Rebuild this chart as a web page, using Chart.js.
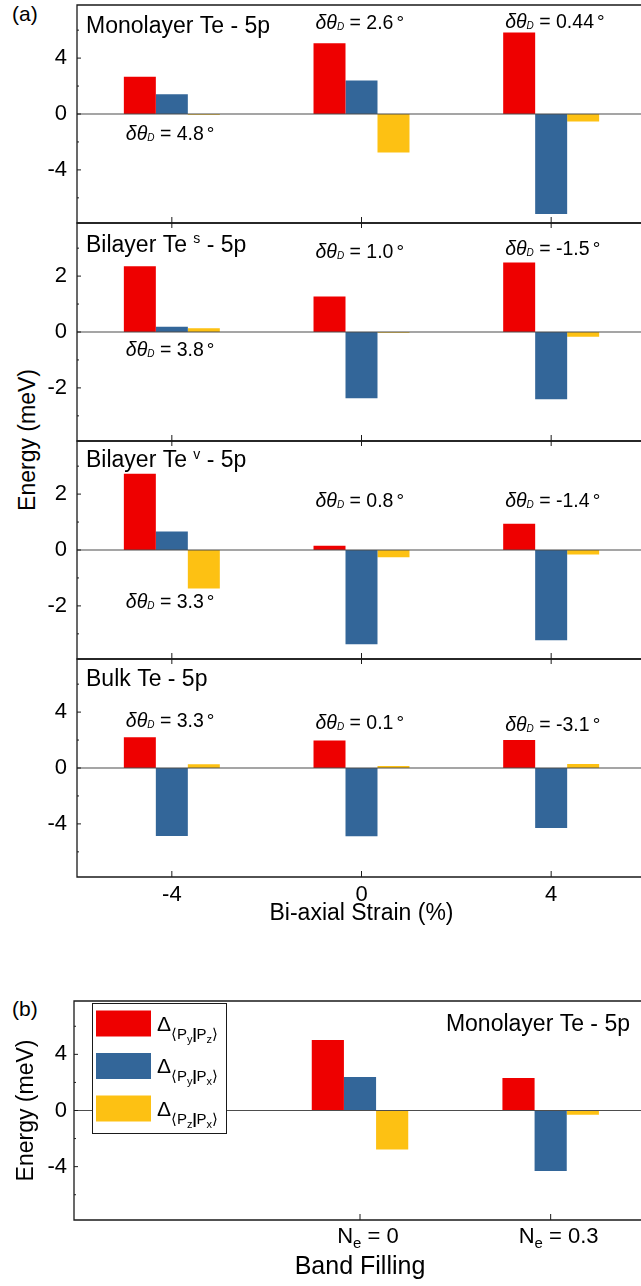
<!DOCTYPE html>
<html>
<head>
<meta charset="utf-8">
<script src="https://cdn.jsdelivr.net/npm/chart.js@4.4.0/dist/chart.umd.min.js"></script>
<style>
  html, body { margin: 0; padding: 0; overflow: hidden; background: #fff; }
  #page { position: relative; width: 641px; height: 1286px; overflow: hidden;
          font-family: "Liberation Sans", Arial, sans-serif; color: #000; }
  .box { position: absolute; left: 0; width: 650px; }
  .lbl { position: absolute; font-size: 21px; line-height: 24px; white-space: nowrap; }
  #ytitle { position: absolute; left: 27px; top: 440px; font-size: 23px; white-space: nowrap;
            transform: translate(-50%, -50%) rotate(-90deg); }
</style>
</head>
<body>
<div id="page">
  <div class="lbl" style="left:12px; top:2px;">(a)</div>
  <div class="lbl" style="left:12px; top:997px;">(b)</div>
  <div id="ytitle">Energy (meV)</div>
  <div class="box" style="top:1px; height:226px;"><canvas id="mono"></canvas></div>
  <div class="box" style="top:219px; height:226px;"><canvas id="bis"></canvas></div>
  <div class="box" style="top:437px; height:226px;"><canvas id="biv"></canvas></div>
  <div class="box" style="top:655px; height:272px;"><canvas id="bulk"></canvas></div>
  <div class="box" style="top:997px; height:289px;"><canvas id="fill"></canvas></div>
</div>
<script>
// ---- data ----
var strainLabels = ['-4', '0', '4'];
var neValues = ['', '0', '0.3'];
var orbitalPairs = [['y', 'z'], ['y', 'x'], ['z', 'x']];

// monolayer Te
var monoPyPz = [2.66, 5.06, 5.83];
var monoPyPx = [1.41, 2.40, -7.15];
var monoPzPx = [-0.05, -2.76, -0.53];
var monoDelta = ['4.8', '2.6', '0.44'];

// bilayer Te (s)
var bisPyPz = [2.35, 1.27, 2.49];
var bisPyPx = [0.19, -2.37, -2.41];
var bisPzPx = [0.13, -0.03, -0.17];
var bisDelta = ['3.8', '1.0', '-1.5'];

// bilayer Te (v)
var bivPyPz = [2.73, 0.15, 0.94];
var bivPyPx = [0.66, -3.37, -3.23];
var bivPzPx = [-1.38, -0.26, -0.16];
var bivDelta = ['3.3', '0.8', '-1.4'];

// bulk Te
var bulkPyPz = [2.20, 1.96, 2.01];
var bulkPyPx = [-4.87, -4.89, -4.30];
var bulkPzPx = [0.26, 0.14, 0.29];
var bulkDelta = ['3.3', '0.1', '-3.1'];

// band filling, monolayer
var fillPyPz = [null, 5.03, 2.31];
var fillPyPx = [null, 2.38, -4.31];
var fillPzPx = [null, -2.78, -0.30];

// ---- drawing helpers ----
var FONT = '"Liberation Sans", Arial, "DejaVu Sans", sans-serif';
var colors = ['#ee0000', '#336699', '#fdc113'];

function fontOf(r) {
  return (r.it ? 'italic ' : '') + (r.b ? 'bold ' : '') + r.s + 'px ' + FONT;
}

function drawRuns(ctx, runs, x, y, align) {
  var w = 0;
  runs.forEach(function(r) {
    ctx.font = fontOf(r);
    r.w = ctx.measureText(r.t).width + (r.dx || 0);
    w += r.w;
  });
  var cx = align === 'center' ? x - w / 2 : (align === 'right' ? x - w : x);
  ctx.textAlign = 'left';
  ctx.textBaseline = 'alphabetic';
  ctx.fillStyle = '#000';
  runs.forEach(function(r) {
    ctx.font = fontOf(r);
    ctx.fillText(r.t, cx + (r.dx || 0), y + (r.dy || 0));
    cx += r.w;
  });
}

function titleRuns(name, sup) {
  var runs = [{t: name + ' ', s: 23}];
  if (sup) runs.push({t: sup, s: 14, dy: -8.5});
  runs.push({t: (sup ? ' ' : '') + '- 5p', s: 23});
  return runs;
}

function deltaRuns(v) {
  return [{t: 'δθ', s: 19.5, it: true}, {t: 'D', s: 10, it: true, dy: 1},
          {t: ' = ' + v, s: 19.5}, {t: '°', s: 19, dx: 3}];
}

function seriesLabel(p) { return 'Δ⟨P' + p[0] + '|P' + p[1] + '⟩'; }

function noPad(s) { s.paddingTop = 0; s.paddingBottom = 0; s.paddingLeft = 0; s.paddingRight = 0; }

function makeChart(id, cfg) {
  var plugin = {
    id: 'deco_' + id,
    afterDatasetsDraw: function(chart) {
      var ctx = chart.ctx, a = chart.chartArea;
      var xs = chart.scales.x, ys = chart.scales.y;
      ctx.save();
      // zero line
      var y0 = ys.getPixelForValue(0);
      ctx.strokeStyle = '#4d4d4d';
      ctx.lineWidth = 1.2;
      ctx.beginPath(); ctx.moveTo(a.left, y0); ctx.lineTo(a.right, y0); ctx.stroke();
      // frame
      ctx.strokeStyle = '#1a1a1a';
      ctx.lineWidth = 1.3;
      ctx.beginPath();
      ctx.moveTo(a.right, a.top); ctx.lineTo(a.left, a.top);
      ctx.lineTo(a.left, a.bottom); ctx.lineTo(a.right, a.bottom);
      ctx.stroke();
      // inward ticks
      ctx.lineWidth = 1;
      for (var k = Math.ceil(ys.min / cfg.minor); k * cfg.minor <= ys.max; k++) {
        var py = ys.getPixelForValue(k * cfg.minor);
        var len = (k % Math.round(cfg.major / cfg.minor) === 0) ? 4 : 2;
        ctx.beginPath(); ctx.moveTo(a.left, py); ctx.lineTo(a.left + len, py); ctx.stroke();
      }
      chart.data.labels.forEach(function(l, i) {
        if (!l) return;
        var px = xs.getPixelForValue(i);
        ctx.beginPath(); ctx.moveTo(px, a.bottom); ctx.lineTo(px, a.bottom - 6); ctx.stroke();
        if (cfg.topTicks) {
          ctx.beginPath(); ctx.moveTo(px, a.top); ctx.lineTo(px, a.top + 5); ctx.stroke();
        }
      });
      // panel title
      var tr = titleRuns(cfg.name, cfg.sup);
      if (cfg.titleRight) drawRuns(ctx, tr, a.left + cfg.titleRight, a.top + 29.5, 'right');
      else drawRuns(ctx, tr, a.left + 9, a.top + cfg.titleY, 'left');
      // delta theta notes
      if (cfg.delta) {
        cfg.delta.forEach(function(d, i) {
          drawRuns(ctx, deltaRuns(d), xs.getPixelForValue(i) - 46, ys.getPixelForValue(cfg.noteY[i]), 'left');
        });
      }
      // band filling tick labels and legend
      if (cfg.fillLegend) {
        neValues.forEach(function(n, i) {
          if (n === '') return;
          drawRuns(ctx, [{t: 'N', s: 22}, {t: 'e', s: 15, dy: 5}, {t: ' = ' + n, s: 22}],
                   xs.getPixelForValue(i) + 8, a.bottom + 23, 'center');
        });
        var bx = a.left + 18, by = a.top + 2;
        ctx.fillStyle = '#fff';
        ctx.fillRect(bx, by, 134, 130);
        ctx.strokeStyle = '#1a1a1a';
        ctx.lineWidth = 1;
        ctx.strokeRect(bx + 0.5, by + 0.5, 134, 130);
        chart.data.datasets.forEach(function(ds, i) {
          var cy = by + 20.5 + i * 42.5;
          ctx.fillStyle = ds.backgroundColor;
          ctx.fillRect(bx + 4, cy - 13, 55, 26);
          var p = orbitalPairs[i];
          drawRuns(ctx, [
            {t: 'Δ', s: 21}, {t: '⟨', s: 15, dy: 8}, {t: 'P', s: 15, dy: 8},
            {t: p[0], s: 11, dy: 12}, {t: '|', s: 15, b: true, dy: 8},
            {t: 'P', s: 15, dy: 8}, {t: p[1], s: 11, dy: 12}, {t: '⟩', s: 15, dy: 8}
          ], bx + 65, cy + 7, 'left');
        });
      }
      ctx.restore();
    }
  };

  var xAxis = {
    display: !!cfg.xTitle,
    grid: {display: false, drawTicks: false},
    border: {display: false},
    ticks: {display: !!cfg.xTicks, color: '#000', padding: 5, font: {family: FONT, size: 22}},
    title: {display: !!cfg.xTitle, text: cfg.xTitle || '', color: '#000', padding: {top: 0, bottom: cfg.xTitlePad || 0},
            font: {family: FONT, size: cfg.xTitleSize || 23}},
    afterFit: function(s) { noPad(s); s.height = cfg.xHeight || 0; }
  };

  return new Chart(document.getElementById(id), {
    type: 'bar',
    data: {
      labels: cfg.labels,
      datasets: cfg.series.map(function(d, i) {
        return {label: seriesLabel(orbitalPairs[i]), data: d, backgroundColor: colors[i],
                borderWidth: 0, categoryPercentage: 0.506, barPercentage: 1.0};
      })
    },
    options: {
      responsive: true,
      maintainAspectRatio: false,
      animation: false,
      layout: {padding: cfg.padding},
      plugins: {legend: {display: false}, tooltip: {enabled: false}},
      scales: {
        x: xAxis,
        y: {
          min: -cfg.range, max: cfg.range,
          grid: {display: false, drawTicks: false},
          border: {display: false},
          ticks: {
            stepSize: cfg.major, includeBounds: false, color: '#000', padding: cfg.yPad,
            font: {family: FONT, size: 22},
            callback: function(v) { return Math.abs(v % cfg.major) < 1e-6 ? v : ''; }
          },
          title: {display: !!cfg.yTitle, text: cfg.yTitle || '', color: '#000',
                  padding: {top: 13, bottom: 0}, font: {family: FONT, size: 23}},
          afterFit: function(s) { noPad(s); s.width = cfg.left; }
        }
      }
    },
    plugins: [plugin]
  });
}

var stripPad = {top: 4, bottom: 4, left: 0, right: 4};

makeChart('mono', {
  labels: strainLabels, series: [monoPyPz, monoPyPx, monoPzPx], range: 7.8, major: 4, minor: 2,
  name: 'Monolayer Te', sup: '', titleY: 28, delta: monoDelta, noteY: [-1.85, 6.07, 6.14],
  padding: stripPad, left: 77, yPad: 10
});
makeChart('bis', {
  labels: strainLabels, series: [bisPyPz, bisPyPx, bisPzPx], range: 3.9, major: 2, minor: 1,
  name: 'Bilayer Te', sup: 's', titleY: 28.5, delta: bisDelta, noteY: [-0.86, 2.63, 2.75], topTicks: true,
  padding: stripPad, left: 77, yPad: 10
});
makeChart('biv', {
  labels: strainLabels, series: [bivPyPz, bivPyPx, bivPzPx], range: 3.9, major: 2, minor: 1,
  name: 'Bilayer Te', sup: 'v', titleY: 26, delta: bivDelta, noteY: [-2.09, 1.53, 1.55], topTicks: true,
  padding: stripPad, left: 77, yPad: 10
});
makeChart('bulk', {
  labels: strainLabels, series: [bulkPyPz, bulkPyPx, bulkPzPx], range: 7.8, major: 4, minor: 2,
  name: 'Bulk Te', sup: '', titleY: 27, delta: bulkDelta, noteY: [2.92, 2.81, 2.68], topTicks: true,
  padding: {top: 4, bottom: 0, left: 0, right: 4}, left: 77, yPad: 10,
  xTicks: true, xTitle: 'Bi-axial Strain (%)', xTitleSize: 23, xHeight: 50
});
makeChart('fill', {
  labels: neValues.map(function(n) { return n === '' ? '' : 'N_e = ' + n; }),
  series: [fillPyPz, fillPyPx, fillPzPx], range: 7.8, major: 4, minor: 2,
  name: 'Monolayer Te', sup: '', titleRight: 556, fillLegend: true,
  padding: {top: 4, bottom: 0, left: 0, right: 4}, left: 74, yPad: 7, yTitle: 'Energy (meV)',
  xTitle: 'Band Filling', xTitleSize: 25, xTitlePad: 4, xHeight: 66
});
</script>
</body>
</html>
